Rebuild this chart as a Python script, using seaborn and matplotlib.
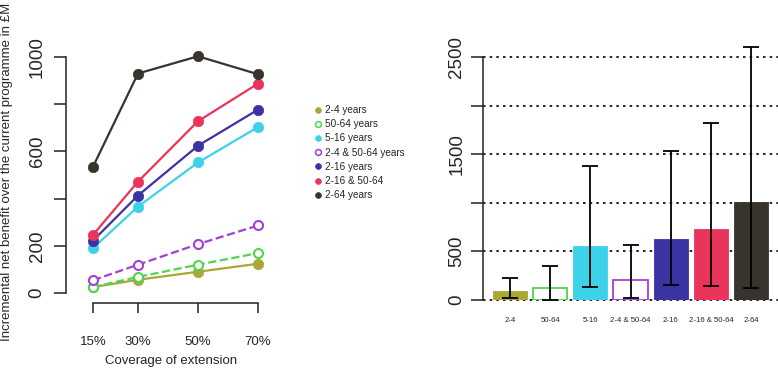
import matplotlib
matplotlib.use("Agg")
import matplotlib.pyplot as plt
from matplotlib.lines import Line2D
import seaborn as sns
import numpy as np
import pandas as pd

# left panel: net benefit by coverage
coverage = [15, 30, 50, 70]
coverage_labels = ["15%", "30%", "50%", "70%"]
series_names = ["2-4 years", "50-64 years", "5-16 years", "2-4 & 50-64 years",
                "2-16 years", "2-16 & 50-64", "2-64 years"]
benefit_2_4 = [25, 56, 90, 124]
benefit_50_64 = [25, 68, 120, 169]
benefit_5_16 = [190, 366, 553, 703]
benefit_2_4_50_64 = [54, 120, 207, 286]
benefit_2_16 = [222, 413, 624, 777]
benefit_2_16_50_64 = [246, 472, 728, 887]
benefit_2_64 = [535, 930, 1003, 927]

# right panel: bars with intervals
bar_labels = ["2-4", "50-64", "5-16", "2-4 & 50-64", "2-16", "2-16 & 50-64", "2-64"]
bar_values = [96, 120, 560, 209, 632, 735, 1010]
bar_low = [24, 0, 137, 24, 155, 148, 120]
bar_high = [230, 350, 1374, 563, 1528, 1823, 2600]

colors = ["#aaa736", "#4fd64a", "#3dd2ea", "#a43ed8", "#3a33a3", "#e9345b", "#38332c"]
open_series = [False, True, False, True, False, False, False]

sns.set_style("ticks")
plt.rcParams["font.family"] = ["Liberation Sans", "DejaVu Sans"]

fig = plt.figure(figsize=(7.78, 3.72), dpi=100)
W, H = 778, 372
ax1 = fig.add_axes([66 / W, (H - 303) / H, 210 / W, 263 / H])
ax2 = fig.add_axes([483 / W, (H - 300) / H, 295 / W, 270 / H])

all_series = [benefit_2_4, benefit_50_64, benefit_5_16, benefit_2_4_50_64,
              benefit_2_16, benefit_2_16_50_64, benefit_2_64]
for name, vals, col, hollow in zip(series_names, all_series, colors, open_series):
    df = pd.DataFrame({"coverage": coverage, "benefit": vals})
    sns.lineplot(data=df, x="coverage", y="benefit", ax=ax1, color=col,
                 linewidth=1.6, linestyle="--" if hollow else "-",
                 dashes=(5, 3) if hollow else (None, None),
                 marker="o", markersize=7.5 if not hollow else 6.5,
                 markerfacecolor="white" if hollow else col,
                 markeredgecolor=col, markeredgewidth=1.5 if hollow else 0.5,
                 clip_on=False)

ax1.set_xlim(6, 76)
ax1.set_ylim(-42.4, 1072)
for s in ["top", "right"]:
    ax1.spines[s].set_visible(False)
ax1.spines["left"].set_bounds(0, 1000)
ax1.spines["bottom"].set_bounds(15, 70)
for s in ["left", "bottom"]:
    ax1.spines[s].set_linewidth(1.1)
    ax1.spines[s].set_color("#222222")
ax1.set_xticks(coverage)
ax1.set_xticklabels(coverage_labels, fontsize=9.5)
ax1.set_yticks([0, 200, 400, 600, 800, 1000])
ax1.set_yticklabels(["0", "200", "", "600", "", "1000"], fontsize=13.5,
                    rotation=90, va="center")
ax1.tick_params(axis="x", direction="out", length=7.5, width=1.1, pad=16,
                color="#222222", bottom=True)
ax1.tick_params(axis="y", direction="out", length=8.6, width=1.1, pad=6,
                color="#222222", left=True)
ax1.set_xlabel("Coverage of extension", fontsize=9.5, labelpad=5)
ax1.set_ylabel("")
fig.text(7 / W, (H - 172) / H,
         "Incremental net benefit over the current programme in £M",
         rotation=90, fontsize=9.5, ha="center", va="center")

handles = []
for name, col, hollow in zip(series_names, colors, open_series):
    handles.append(Line2D([], [], linestyle="none", marker="o", markersize=4.2,
                          markerfacecolor="white" if hollow else col,
                          markeredgecolor=col, markeredgewidth=1.1 if hollow else 0.5,
                          label=name))
fig.legend(handles=handles, loc="upper left", bbox_to_anchor=(309 / W, (H - 101) / H),
           frameon=False, fontsize=7.2, handletextpad=0.2, labelspacing=0.42,
           handlelength=1.0, borderaxespad=0)

# right panel
bdf = pd.DataFrame({"group": bar_labels, "value": bar_values})
sns.barplot(data=bdf, x="group", y="value", hue="group", palette=colors,
            ax=ax2, width=0.85, legend=False, saturation=1)
for patch, col, hollow in zip(ax2.patches, colors, open_series):
    if hollow:
        patch.set_facecolor("white")
        patch.set_edgecolor(col)
        patch.set_linewidth(1.3)
    else:
        patch.set_edgecolor(col)
        patch.set_linewidth(0.6)
    patch.set_zorder(2)

xpos = np.arange(len(bar_labels))
vals = np.array(bar_values)
yerr = [vals - np.array(bar_low), np.array(bar_high) - vals]
ax2.errorbar(xpos, vals, yerr=yerr, fmt="none", ecolor="black", elinewidth=1.3,
             capsize=6, capthick=1.3, zorder=4, clip_on=False)

ax2.set_xlim(-0.67, 6.67)
ax2.set_ylim(0, 2778)
ax2.set_yticks([0, 500, 1000, 1500, 2000, 2500])
ax2.set_yticklabels(["0", "500", "", "1500", "", "2500"], fontsize=13.5,
                    rotation=90, va="center")
for y in [0, 500, 1000, 1500, 2000, 2500]:
    ax2.axhline(y, color="black", linestyle=(0, (1.5, 2.5)), linewidth=1.2,
                zorder=1, clip_on=False)
for s in ["top", "right", "bottom"]:
    ax2.spines[s].set_visible(False)
ax2.spines["left"].set_bounds(0, 2500)
ax2.spines["left"].set_linewidth(1.1)
ax2.spines["left"].set_color("#222222")
ax2.tick_params(axis="y", direction="out", length=8.6, width=1.1, pad=4,
                color="#222222", left=True)
ax2.tick_params(axis="x", length=0, pad=12, labelsize=5.6, bottom=False)
ax2.set_xlabel("")
ax2.set_ylabel("")

fig.savefig("out.png", dpi=100, facecolor="white")
